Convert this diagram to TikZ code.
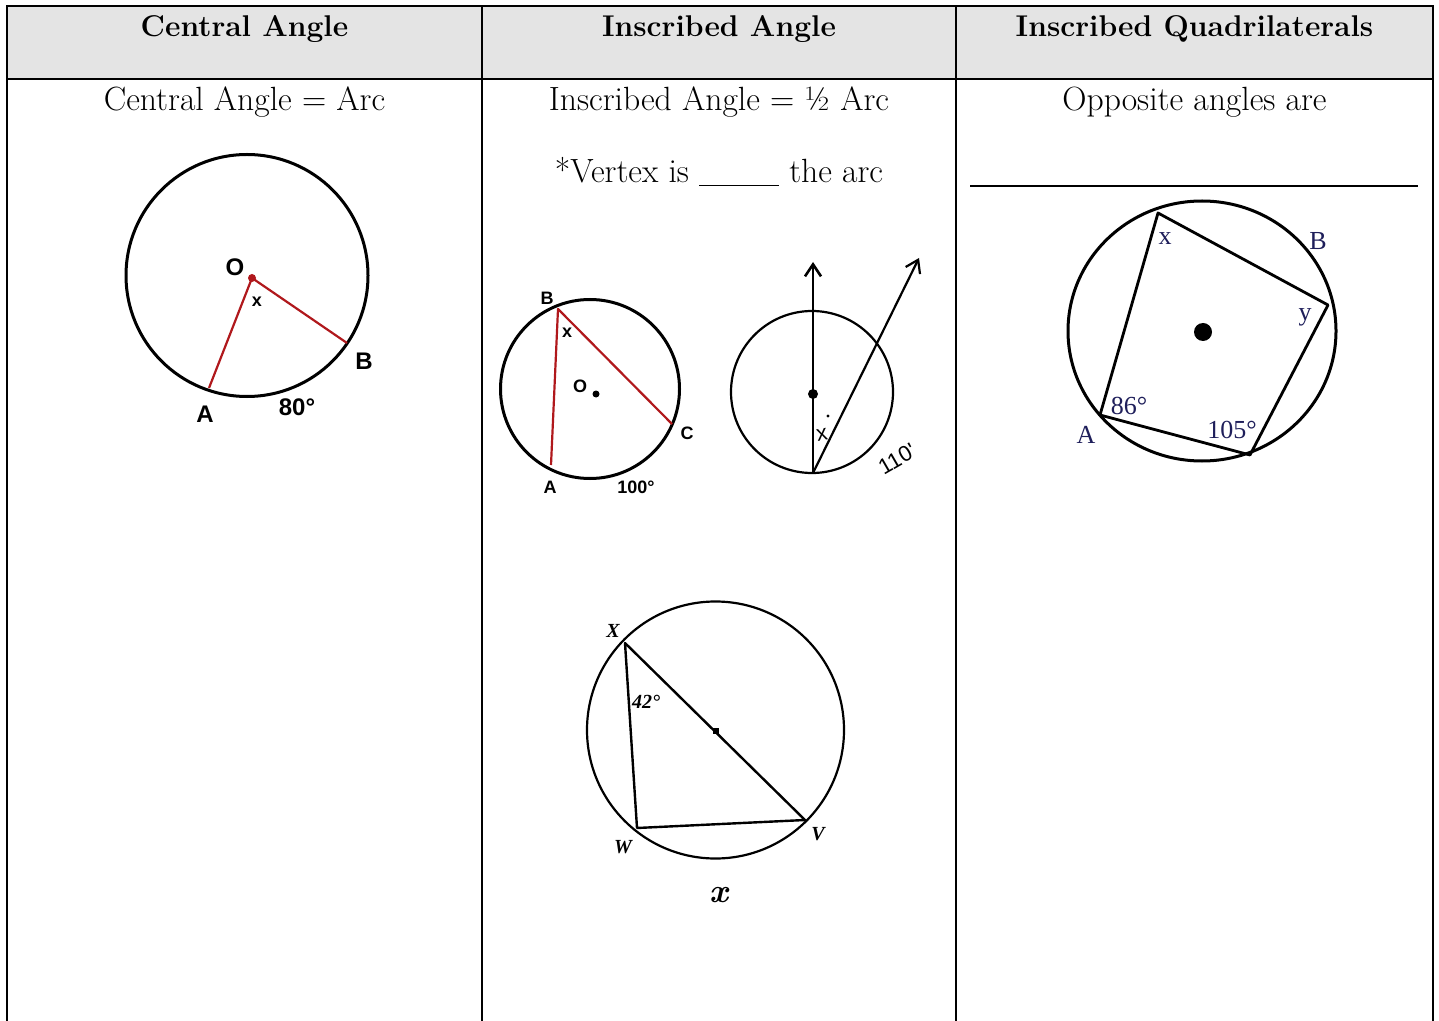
\documentclass[tikz,border=0pt]{standalone}
\usepackage{fontspec}
\newfontfamily\lsans{Liberation Sans}
\newfontfamily\lserif{Liberation Serif}
\usetikzlibrary{arrows.meta}
\definecolor{hdr}{HTML}{E4E4E4}
\definecolor{dred}{HTML}{B0181C}
\definecolor{navy}{HTML}{1E1E5A}
\tikzset{
  tbl/.style={line width=1pt, line cap=rect},
  hdrtext/.style={font=\fontsize{15}{17}\selectfont\bfseries, anchor=base, inner sep=0pt},
  bodytext/.style={font=\fontsize{16.8}{19}\selectfont, anchor=base, inner sep=0pt},
  circ/.style={line width=1.5pt},
  thin circ/.style={line width=1.1pt},
  redseg/.style={dred, line width=1.1pt},
  blackseg/.style={line width=1.3pt},
  lblA/.style={font=\lsans\bfseries\fontsize{12}{13}\selectfont, inner sep=0pt},
  lblB/.style={font=\lsans\bfseries\fontsize{9}{10}\selectfont, inner sep=0pt},
  lblQ/.style={font=\lserif\fontsize{13}{14}\selectfont, text=navy, inner sep=0pt},
  lblW/.style={font=\lserif\bfseries\itshape\fontsize{10}{11}\selectfont, inner sep=0pt},
  hand/.style={font=\lsans\fontsize{11}{12}\selectfont, inner sep=0pt},
}
\begin{document}
\begin{tikzpicture}[x=0.5pt,y=-0.5pt]
\useasboundingbox (0,0) rectangle (1439,1021);
% ---------- table ----------
\fill[hdr] (7,6) rectangle (1433,79);
\draw[tbl] (7,1021) -- (7,6) -- (1433,6) -- (1433,1021);
\draw[tbl] (7,79) -- (1433,79);
\draw[tbl] (482,6) -- (482,1021);
\draw[tbl] (956,6) -- (956,1021);
\node[hdrtext] (h1) at (244.5,37) {Central Angle};
\node[hdrtext] (h2) at (719,37) {Inscribed Angle};
\node[hdrtext] (h3) at (1194.5,37) {Inscribed Quadrilaterals};
\node[bodytext] (t1) at (244.5,111) {Central Angle = Arc};
\node[bodytext] (t2) at (719,111) {Inscribed Angle = ½ Arc};
\node[bodytext] (t3) at (719,183) {*Vertex is \rule[-1.5pt]{40pt}{0.6pt} the arc};
\node[bodytext] (t4) at (1194.5,111) {Opposite angles are};
\coordinate (bl) at (970,186);
\coordinate (br) at (1418,186);
\draw[line width=0.8pt] (bl) -- (br);
% ---------- diagram 1: central angle ----------
\coordinate (c1) at (247,275.5);
\coordinate (O1) at (252,278);
\coordinate (A1) at (209,388);
\coordinate (B1) at (347,343);
\draw[circ] (c1) circle[radius=121];
\draw[redseg, line join=round] (A1) -- (O1) -- (B1);
\fill[dred] (O1) circle[radius=4];
\node[lblA] (lO1) at (235,267) {O};
\node[lblB] (lx1) at (257,302) {x};
\node[lblA] (lB1) at (364,361) {B};
\node[lblA] (lA1) at (205,414) {A};
\node[lblA] (l801) at (297,407) {80°};
% ---------- diagram 2: inscribed angle ----------
\coordinate (c2) at (590,389);
\coordinate (B2) at (558,309);
\coordinate (A2) at (551,465);
\coordinate (C2) at (672,424);
\coordinate (O2) at (596,394);
\draw[circ] (c2) circle[radius=89.5];
\draw[redseg, line join=round] (A2) -- (B2) -- (C2);
\fill (O2) circle[radius=3.5];
\node[lblB] (lO2) at (580,386) {O};
\node[lblB] (lx2) at (567,333) {x};
\node[lblB] (lB2) at (547,298) {B};
\node[lblB] (lA2) at (550,487) {A};
\node[lblB] (lC2) at (687,433) {C};
\node[lblB] (l1002) at (636,487) {100°};
% ---------- diagram 3: diameter + chord ----------
\coordinate (c3) at (812,392);
\coordinate (P3) at (813,473);
\coordinate (U3) at (813,262);
\coordinate (R3) at (919,258);
\coordinate (D3) at (813,394);
\draw[thin circ] (c3) circle[radius=81];
\draw[blackseg, -{Straight Barb[length=6pt,width=8pt]}] (P3) -- (U3);
\draw[line width=1.1pt, -{Straight Barb[length=6pt,width=8pt]}] (P3) -- (R3);
\fill (D3) circle[radius=5];
\node[hand, rotate=10] (lx3) at (822,435) {x};
\fill (828,416) circle[radius=1.6];
\node[hand, rotate=30] (l1103) at (897,459) {110'};
% ---------- diagram 4: inscribed quadrilateral ----------
\coordinate (c4) at (1202,331);
\coordinate (T4) at (1158,213);
\coordinate (R4) at (1328,305);
\coordinate (Bo4) at (1250,455);
\coordinate (L4) at (1100,415);
\draw[circ] (c4) ellipse[x radius=134, y radius=130];
\draw[line width=1.4pt, line join=round] (T4) -- (R4) -- (Bo4) -- (L4) -- cycle;
\fill (1203,332) circle[radius=9];
\node[lblQ] (lx4) at (1165,239) {x};
\node[lblQ] (lB4) at (1318,241) {B};
\node[lblQ] (ly4) at (1305,317) {y};
\node[lblQ] (l864) at (1129,406) {86°};
\node[lblQ] (l1054) at (1232,430) {105°};
\node[lblQ] (lA4) at (1086,435) {A};
% ---------- diagram 5: triangle with diameter ----------
\coordinate (c5) at (715.5,730);
\coordinate (X5) at (625,643);
\coordinate (W5) at (637,828);
\coordinate (V5) at (805,820);
\draw[thin circ] (c5) circle[radius=128.5];
\draw[line width=1.2pt, line join=round] (X5) -- (W5) -- (V5) -- cycle;
\fill (713,728) rectangle (719,734);
\node[lblW] (lX5) at (613,631) {X};
\node[lblW] (lW5) at (623,847) {W};
\node[lblW] (lV5) at (818,834) {V};
\node[lblW] (l425) at (646,702) {42°};
\node[font=\fontsize{16.8}{19}\selectfont\bfseries\itshape, inner sep=0pt] (xb) at (719,895) {x};
\end{tikzpicture}
\end{document}
